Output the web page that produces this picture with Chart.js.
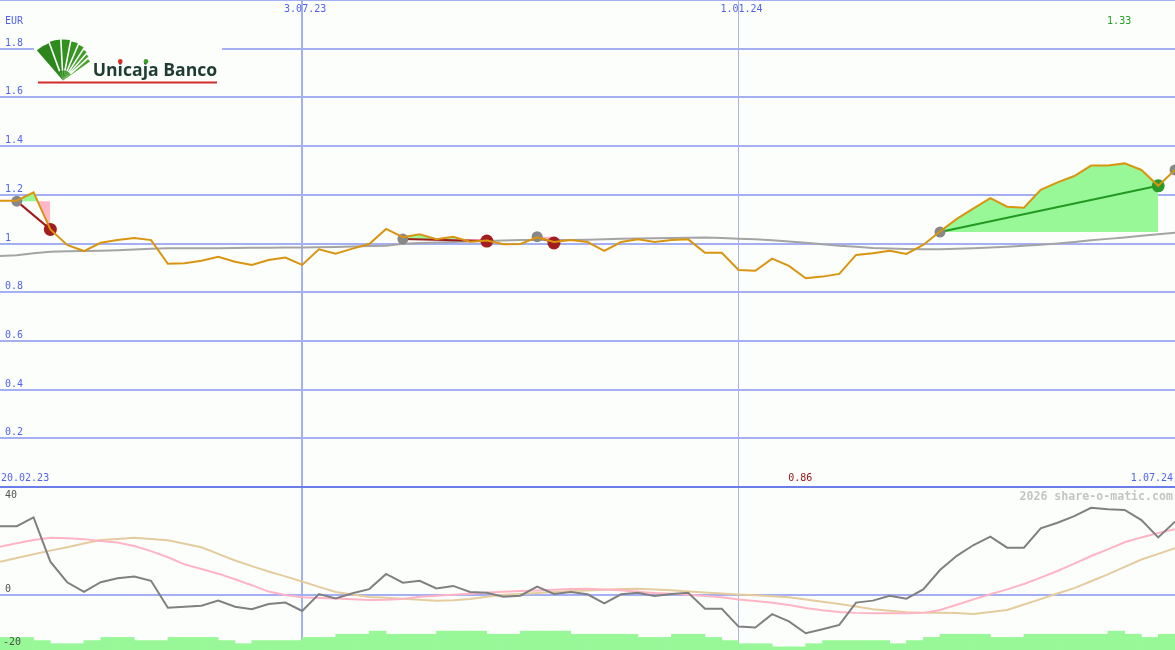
<!DOCTYPE html>
<html>
<head>
<meta charset="utf-8">
<script src="https://cdn.jsdelivr.net/npm/chart.js@4.4.1/dist/chart.umd.min.js"></script>
<style>
  html, body { margin: 0; padding: 0; background: #fcfefc; }
  #wrap { position: relative; width: 1175px; height: 650px; overflow: hidden; background: #fcfefc; }
  #top { position: absolute; left: 0; top: 0; }
  #bottom { position: absolute; left: 0; top: 489px; }
</style>
</head>
<body>
<div id="wrap">
  <canvas id="top" width="1175" height="489"></canvas>
  <canvas id="bottom" width="1175" height="161"></canvas>
</div>
<script>
// weekly closes, index 0 = left edge, 70 = 1.07.24
var price = [
  1.176, 1.176, 1.210, 1.058, 0.994, 0.969, 1.003, 1.014, 1.023, 1.014,
  0.917, 0.919, 0.929, 0.945, 0.925, 0.912, 0.932, 0.942, 0.912, 0.976,
  0.958, 0.979, 0.998, 1.060, 1.026, 1.038, 1.018, 1.028, 1.007, 1.012,
  0.997, 0.998, 1.025, 1.006, 1.014, 1.006, 0.970, 1.006, 1.017, 1.006,
  1.014, 1.017, 0.962, 0.962, 0.891, 0.888, 0.938, 0.908, 0.857, 0.864,
  0.875, 0.953, 0.960, 0.970, 0.957, 0.994, 1.049, 1.101, 1.144, 1.186,
  1.151, 1.147, 1.220, 1.251, 1.277, 1.320, 1.320, 1.329, 1.302, 1.237,
  1.302
];
var avgLong = [
  0.949, 0.952, 0.960, 0.966, 0.968, 0.969, 0.970, 0.972, 0.975, 0.978,
  0.980, 0.980, 0.980, 0.981, 0.982, 0.983, 0.983, 0.984, 0.984, 0.985,
  0.986, 0.988, 0.990, 0.991, 0.999, 1.002, 1.004, 1.006, 1.008, 1.010,
  1.012, 1.014, 1.014, 1.014, 1.014, 1.015, 1.017, 1.019, 1.021, 1.022,
  1.023, 1.024, 1.025, 1.023, 1.020, 1.017, 1.013, 1.008, 1.003, 0.997,
  0.991, 0.987, 0.982, 0.979, 0.977, 0.976, 0.976, 0.978, 0.981, 0.984,
  0.987, 0.991, 0.995, 1.000, 1.006, 1.013, 1.019, 1.025, 1.032, 1.038,
  1.044
];

// trades: entry / exit
var tradeEntryIdx = [1, 24, 32, 56, 70];
var tradeEntryPrice = [1.174, 1.018, 1.028, 1.047, 1.302];
var tradeExitIdx = [3, 29, 33, 69, null];
var tradeExitPrice = [1.058, 1.010, 1.002, 1.237, null];

// lower panel
var osc = [
  27.9, 27.9, 31.5, 13.4, 5.0, 1.1, 5.0, 6.6, 7.3, 5.6,
  -5.4, -5.0, -4.6, -2.5, -5.0, -6.0, -3.9, -3.3, -6.7, 0.2,
  -1.6, 0.5, 2.2, 8.4, 4.8, 5.6, 2.5, 3.5, 1.0, 0.7,
  -0.9, -0.5, 3.2, 0.2, 1.0, 0.1, -3.6, 0.1, 0.7, -0.6,
  0.2, 0.7, -5.8, -5.8, -13.1, -13.5, -8.0, -11.0, -15.8, -14.2,
  -12.4, -3.3, -2.5, -0.5, -1.7, 2.1, 10.0, 15.8, 20.2, 23.6,
  19.1, 19.1, 27.0, 29.3, 32.0, 35.4, 34.8, 34.5, 30.4, 23.3,
  29.7
];
var oscFast = [
  19.5, 20.9, 22.2, 23.2, 23.0, 22.6, 21.8, 21.2, 19.8, 17.7,
  15.2, 12.3, 10.4, 8.5, 6.2, 3.8, 1.2, -0.2, -1.1, -1.4,
  -1.6, -1.9, -2.2, -2.1, -1.8, -0.9, -0.5, -0.1, 0.3, 0.8,
  1.1, 1.4, 1.6, 1.9, 2.2, 2.3, 2.0, 1.7, 1.1, 0.6,
  0.3, -0.1, -0.6, -1.1, -2.0, -2.7, -3.4, -4.3, -5.5, -6.4,
  -7.1, -7.5, -7.7, -7.7, -7.7, -7.5, -6.3, -4.2, -2.0, 0.1,
  2.1, 4.3, 6.9, 9.6, 12.6, 15.7, 18.4, 21.3, 23.3, 25.1,
  26.6
];
var oscSlow = [
  13.4, 14.9, 16.4, 17.9, 19.3, 20.8, 22.2, 22.7, 23.2, 22.7,
  22.1, 20.7, 19.3, 16.6, 13.9, 11.6, 9.4, 7.4, 5.3, 3.1,
  1.0, 0.0, -1.0, -1.3, -1.7, -2.1, -2.5, -2.3, -1.8, -0.9,
  -0.1, 0.2, 0.6, 1.0, 1.4, 1.6, 1.9, 2.2, 2.3, 2.0,
  1.7, 1.2, 0.8, 0.4, 0.0, -0.3, -0.7, -1.1, -2.0, -3.0,
  -3.9, -4.9, -6.0, -6.6, -7.2, -7.4, -7.4, -7.6, -8.0, -7.1,
  -6.3, -4.1, -1.9, 0.4, 2.6, 5.4, 8.2, 11.3, 14.3, 16.6,
  18.9
];
// volume level per week
var volume = [
  4, 4, 3, 2, 2, 3, 4, 4, 3, 3,
  4, 4, 4, 3, 2, 3, 3, 3, 4, 4,
  5, 5, 6, 5, 5, 5, 6, 6, 6, 5,
  5, 6, 6, 6, 5, 5, 5, 5, 4, 4,
  5, 5, 4, 3, 2, 2, 1, 1, 2, 3,
  3, 3, 3, 2, 3, 4, 5, 5, 5, 4,
  4, 5, 5, 5, 5, 5, 6, 5, 4, 5
];

// axis labels
var dateTickIdx = [18, 44];
var dateTickLabel = ['3.07.23', '1.01.24'];
var firstDate = '20.02.23';
var lastDate = '1.07.24';
var priceTicks = [0, 0.2, 0.4, 0.6, 0.8, 1, 1.2, 1.4, 1.6, 1.8, 2];
var oscTicks = [40, 0, -20];

var bg = '#fcfefc';
var gridBlue = '#a4b0f2';
var textBlue = '#5262f0';
var mono = '10px "DejaVu Sans Mono"';

function pts(arr) {
  return arr.map(function (v, i) { return { x: i, y: v }; });
}

function xScaleOpts() {
  return {
    type: 'linear', min: 0, max: 70, offset: false,
    afterBuildTicks: function (s) { s.ticks = dateTickIdx.map(function (v) { return { value: v }; }); },
    afterFit: function (s) { s.height = 0; },
    ticks: { display: false },
    border: { display: false },
    grid: {
      offset: false,
      drawTicks: false,
      color: function (c) { return c.tick && c.tick.value === dateTickIdx[0] ? gridBlue : '#aab2e6'; },
      lineWidth: function (c) { return c.tick && c.tick.value === dateTickIdx[0] ? 2 : 1; }
    }
  };
}

function drawLogo(ctx) {
  ctx.save();
  ctx.fillStyle = bg;
  ctx.fillRect(34, 36, 188, 50);
  var cx = 63, cy = 80.5;
  var edges = [-131, -110, -93, -79, -67, -57, -49, -42, -35];
  var radii = [40, 41, 41, 40, 39, 37, 35, 33];
  var cols = ['#2c861c', '#2f8b1e', '#338f20', '#379322', '#3b9724', '#409b26', '#45a028', '#4aa42a'];
  for (var k = 0; k < edges.length - 1; k++) {
    var a = edges[k] * Math.PI / 180, b = edges[k + 1] * Math.PI / 180;
    ctx.beginPath();
    ctx.moveTo(cx, cy);
    ctx.arc(cx, cy, radii[k], a, b);
    ctx.closePath();
    ctx.fillStyle = cols[k];
    ctx.fill();
  }
  ctx.strokeStyle = bg;
  ctx.lineWidth = 1.6;
  for (var j = 1; j < edges.length - 1; j++) {
    var t = edges[j] * Math.PI / 180;
    ctx.beginPath();
    ctx.moveTo(cx + Math.cos(t) * 10, cy + Math.sin(t) * 10);
    ctx.lineTo(cx + Math.cos(t) * 44, cy + Math.sin(t) * 44);
    ctx.stroke();
  }
  // name
  var name = 'Unicaja Banco';
  ctx.font = 'bold 18px "Open Sans"';
  ctx.fillStyle = '#1e3c33';
  ctx.textBaseline = 'alphabetic';
  ctx.save();
  ctx.translate(92.7, 75.5);
  ctx.scale(124.5 / ctx.measureText(name).width, 1);
  ctx.fillText(name, 0, 0);
  var iX = ctx.measureText('Un').width + ctx.measureText('i').width / 2;
  var jX = ctx.measureText('Unica').width + ctx.measureText('j').width * 0.62;
  ctx.fillStyle = '#e02a2a';
  ctx.beginPath(); ctx.arc(iX, -14, 2.4, 0, Math.PI * 2); ctx.fill();
  ctx.fillStyle = '#38a024';
  ctx.beginPath(); ctx.arc(jX, -14, 2.4, 0, Math.PI * 2); ctx.fill();
  ctx.restore();
  ctx.restore();
  ctx.fillStyle = '#d42a2a';
  ctx.fillRect(38, 81.5, 179, 2);
}

var topText = {
  id: 'topText',
  afterDraw: function (chart) {
    var ctx = chart.ctx, x = chart.scales.x, y = chart.scales.y;
    drawLogo(ctx);
    ctx.save();
    ctx.font = mono;
    ctx.textBaseline = 'middle';
    ctx.fillStyle = textBlue;
    ctx.textAlign = 'left';
    ctx.fillText('EUR', 5, 21.5);
    priceTicks.forEach(function (v) {
      if (v <= 0 || v >= 2) return;
      ctx.fillText(String(Number(v.toFixed(1))), 5, y.getPixelForValue(v) - 5.5);
    });
    ctx.textAlign = 'center';
    dateTickIdx.forEach(function (d, i) {
      ctx.fillText(dateTickLabel[i], x.getPixelForValue(d) + 3, 9);
    });
    ctx.textAlign = 'left';
    ctx.fillText(firstDate, 1, 478);
    ctx.textAlign = 'right';
    ctx.fillText(lastDate, 1173, 478);
    // extremes
    var hi = Math.max.apply(null, price), lo = Math.min.apply(null, price);
    ctx.textAlign = 'center';
    ctx.fillStyle = '#22a022';
    ctx.fillText(hi.toFixed(2), x.getPixelForValue(price.indexOf(hi)) - 5.5, 21.5);
    ctx.fillStyle = '#a01414';
    ctx.fillText(lo.toFixed(2), x.getPixelForValue(price.indexOf(lo)) - 5.5, 478);
    ctx.restore();
  }
};

// top datasets
var topSets = [{
  data: pts(price), borderColor: '#d99410', borderWidth: 2, pointRadius: 0, tension: 0, order: 0
}, {
  data: pts(avgLong), borderColor: '#a4a4a4', borderWidth: 2, pointRadius: 0, tension: 0, order: 15
}];
tradeEntryIdx.forEach(function (e, i) {
  var x = tradeExitIdx[i];
  var gain = x !== null && tradeExitPrice[i] > tradeEntryPrice[i];
  if (x !== null) {
    topSets.push({
      data: [{ x: e, y: tradeEntryPrice[i] }, { x: x, y: tradeEntryPrice[i] }],
      borderColor: 'transparent', borderWidth: 0, pointRadius: 0, order: 20,
      fill: { target: 0, above: '#ffb8c8', below: '#98f898' }
    });
    topSets.push({
      data: [{ x: e, y: tradeEntryPrice[i] }, { x: x, y: tradeExitPrice[i] }],
      borderColor: gain ? '#229a22' : '#a01c1c', borderWidth: 2, pointRadius: 0, order: 10
    });
    topSets.push({
      data: [{ x: x, y: tradeExitPrice[i] }], showLine: false,
      pointRadius: 6.5, pointBorderWidth: 0,
      pointBackgroundColor: gain ? '#2a9a2a' : '#a21e1e', order: 5
    });
  }
  topSets.push({
    data: [{ x: e, y: tradeEntryPrice[i] }], showLine: false,
    pointRadius: 5.5, pointBorderWidth: 0, pointBackgroundColor: '#888888', order: 6
  });
});

new Chart(document.getElementById('top'), {
  type: 'line',
  data: { datasets: topSets },
  options: {
    responsive: false, animation: false, events: [],
    layout: { padding: 0, autoPadding: false },
    plugins: { legend: { display: false }, tooltip: { enabled: false } },
    scales: {
      x: xScaleOpts(),
      y: {
        min: -2 / 243.5, max: 2,
        afterBuildTicks: function (s) { s.ticks = priceTicks.map(function (v) { return { value: v }; }); },
        afterFit: function (s) { s.width = 0; },
        ticks: { display: false },
        border: { display: false },
        grid: {
          drawTicks: false, lineWidth: 2,
          color: function (c) { return c.tick && c.tick.value === 0 ? '#6c7ce8' : gridBlue; }
        }
      }
    }
  },
  plugins: [topText]
});

var bottomText = {
  id: 'bottomText',
  afterDraw: function (chart) {
    var ctx = chart.ctx, y = chart.scales.y;
    ctx.save();
    ctx.font = mono;
    ctx.textBaseline = 'middle';
    ctx.textAlign = 'left';
    ctx.fillStyle = '#505050';
    oscTicks.forEach(function (v, i) {
      // end labels sit on their level, inner ones just above the line
      var edge = i === 0 || i === oscTicks.length - 1;
      ctx.fillText(String(v), v < 0 ? 3 : 5, y.getPixelForValue(v) - (edge ? 1.5 : 5.5));
    });
    ctx.font = 'bold 11.6px "DejaVu Sans Mono"';
    ctx.textAlign = 'right';
    ctx.fillStyle = '#c4c4c4';
    ctx.fillText('2026 share-o-matic.com', 1173, 7.5);
    ctx.restore();
  }
};

new Chart(document.getElementById('bottom'), {
  type: 'line',
  data: {
    datasets: [
      { data: pts(osc), borderColor: '#808080', borderWidth: 2, pointRadius: 0, tension: 0, order: 1 },
      { data: pts(oscFast), borderColor: '#ffb4c6', borderWidth: 2, pointRadius: 0, tension: 0, order: 2 },
      { data: pts(oscSlow), borderColor: '#e4cc9e', borderWidth: 2, pointRadius: 0, tension: 0, order: 3 },
      {
        type: 'bar', yAxisID: 'yv', order: 10,
        data: volume.map(function (v, i) { return { x: i + 0.5, y: v }; }),
        backgroundColor: '#98f898', borderWidth: 0,
        barPercentage: 1, categoryPercentage: 1
      }
    ]
  },
  options: {
    responsive: false, animation: false, events: [],
    layout: { padding: 0, autoPadding: false },
    plugins: { legend: { display: false }, tooltip: { enabled: false } },
    scales: {
      x: xScaleOpts(),
      y: {
        min: -55.5 / 2.45, max: 105.5 / 2.45,
        afterBuildTicks: function (s) { s.ticks = [{ value: 0 }]; },
        afterFit: function (s) { s.width = 0; },
        ticks: { display: false },
        border: { display: false },
        grid: { drawTicks: false, lineWidth: 2, color: gridBlue }
      },
      yv: { display: false, min: 0, max: 161 / 3.15 }
    }
  },
  plugins: [bottomText]
});
</script>
</body>
</html>
